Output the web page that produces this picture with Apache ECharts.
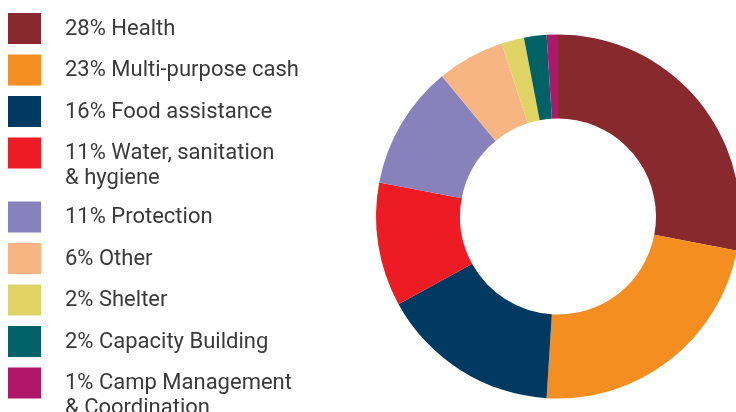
<!DOCTYPE html>
<html>
<head>
<meta charset="utf-8">
<script src="https://cdn.jsdelivr.net/npm/echarts@6/dist/echarts.min.js"></script>
<style>
  html, body { margin: 0; padding: 0; background: #fff; }
  #chart { width: 736px; height: 412px; }
</style>
</head>
<body>
<div id="chart"></div>
<script>
// Funding share by sector (percent)
const categories = [
  'Health',
  'Multi-purpose cash',
  'Food assistance',
  'Water, sanitation\n& hygiene',
  'Protection',
  'Other',
  'Shelter',
  'Capacity Building',
  'Camp Management\n& Coordination'
];
const values = [28, 23, 16, 11, 11, 6, 2, 2, 1];
const colors = [
  '#88292D', '#F48E20', '#003962', '#ED1C24', '#8882BC',
  '#F8B584', '#DFD366', '#006266', '#AF1868'
];

const chart = echarts.init(document.getElementById('chart'), null, { renderer: 'canvas' });

// Hand-laid legend: square swatch + label, first line centred on the swatch
const legendItems = [];
let extraLines = 0;
categories.forEach(function (name, i) {
  const top = 13 + 41.5 * i + 22.5 * extraLines;
  legendItems.push({
    type: 'rect',
    shape: { x: 8, y: top, width: 33, height: 31 },
    style: { fill: colors[i] }
  });
  legendItems.push({
    type: 'text',
    x: 65,
    y: top + 4,
    style: {
      text: values[i] + '% ' + name,
      fill: '#3a3a3a',
      font: '22px Roboto',
      lineHeight: 24.5,
      verticalAlign: 'top',
      align: 'left'
    }
  });
  extraLines += name.split('\n').length - 1;
});

chart.setOption({
  animation: false,
  backgroundColor: '#ffffff',
  graphic: legendItems,
  series: [{
    type: 'pie',
    center: [558, 216.5],
    radius: [98, 182],
    startAngle: 90,
    clockwise: true,
    label: { show: false },
    labelLine: { show: false },
    emphasis: { disabled: true },
    itemStyle: { borderWidth: 0 },
    data: categories.map(function (name, i) {
      return { name: name, value: values[i], itemStyle: { color: colors[i] } };
    })
  }]
});
</script>
</body>
</html>
